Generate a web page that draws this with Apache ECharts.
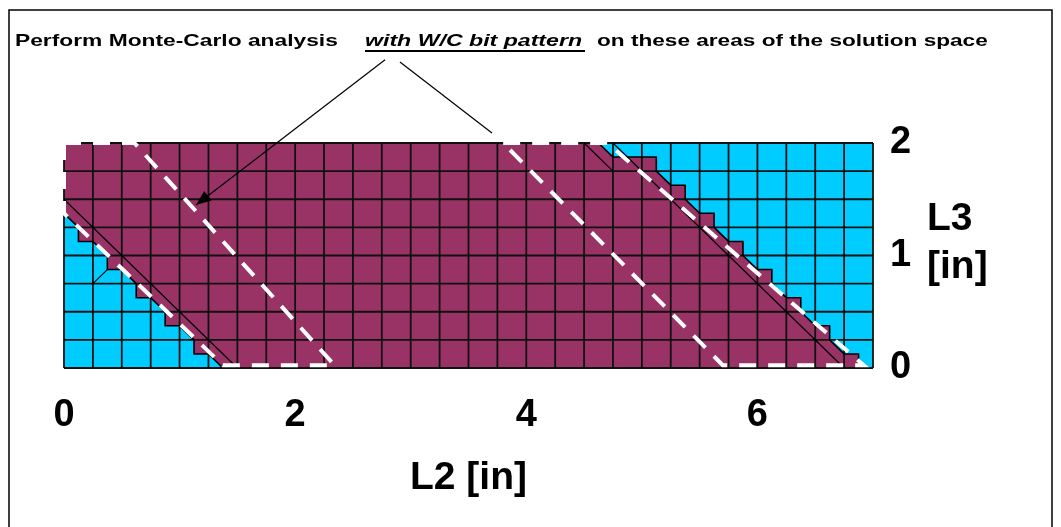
<!DOCTYPE html>
<html>
<head>
<meta charset="utf-8">
<script src="https://cdn.jsdelivr.net/npm/echarts@6/dist/echarts.min.js"></script>
<style>
  html, body { margin: 0; padding: 0; background: #ffffff; }
  #chart { width: 1061px; height: 527px; }
</style>
</head>
<body>
<div id="chart"></div>
<script>
// Axis ticks (inches)
const l2Ticks = [0, 2, 4, 6];
const l3Ticks = [0, 1, 2];

// Cell boundaries of the sampled solution space
const l2CellEdges = [0, 0.25, 0.5, 0.75, 1, 1.25, 1.5, 1.75, 2, 2.25, 2.5, 2.75, 3, 3.25, 3.5,
  3.75, 4, 4.25, 4.5, 4.75, 5, 5.25, 5.5, 5.75, 6, 6.25, 6.5, 6.75, 7];
const l3CellEdges = [0, 0.25, 0.5, 0.75, 1, 1.25, 1.5, 1.75, 2];

// Contour of the valid band (L2, L3): lower-left staircase edge
const lowerEdge = [
  [0, 1.375], [0.125, 1.25], [0.125, 1.125], [0.25, 1.125], [0.375, 1.0], [0.375, 0.875],
  [0.5, 0.875], [0.625, 0.75], [0.625, 0.625], [0.75, 0.625], [0.875, 0.5], [0.875, 0.375],
  [1.0, 0.375], [1.125, 0.25], [1.125, 0.125], [1.25, 0.125], [1.375, 0]
];
// Contour of the valid band: upper-right staircase edge
const upperEdge = [
  [4.625, 2], [4.75, 1.875], [5.125, 1.875], [5.125, 1.75], [5.25, 1.625], [5.375, 1.625],
  [5.375, 1.5], [5.5, 1.375], [5.625, 1.375], [5.625, 1.25], [5.75, 1.125], [5.875, 1.125],
  [5.875, 1.0], [6.0, 0.875], [6.125, 0.875], [6.125, 0.75], [6.25, 0.625], [6.375, 0.625],
  [6.375, 0.5], [6.5, 0.375], [6.625, 0.375], [6.625, 0.25], [6.75, 0.125], [6.875, 0.125],
  [6.875, 0]
];

// Surface mesh diagonals
const meshLines = [
  [[0, 1.5], [1.5, 0]],
  [[4.75, 2], [6.75, 0]],
  [[4.5, 2], [4.75, 1.75]],
  [[0.25, 0.75], [0.375, 0.875]]
];

// Monte-Carlo analysis areas
const mcAreaLeft = [[0, 2], [0.61, 2], [2.34, 0.025], [1.375, 0.025], [0, 1.375]];
const mcAreaRight = [[3.8, 2], [4.7, 2], [6.92, 0.025], [5.7, 0.025]];

// Callout lines from the note to the two areas
const callouts = [
  { from: [2.778, 2.74], to: [1.142, 1.449], arrow: true },
  { from: [2.907, 2.72], to: [3.703, 2.089], arrow: false }
];

const PURPLE = '#993366';
const CYAN = '#00ccff';
const FONT = '"Liberation Sans", Arial, sans-serif';

function renderScene(params, api) {
  const pt = p => api.coord(p);
  const children = [];

  children.push({
    type: 'polygon',
    shape: { points: [[0, 0], [7, 0], [7, 2], [0, 2]].map(pt) },
    style: { fill: CYAN }
  });

  const band = [[0, 2]].concat(lowerEdge, upperEdge.slice().reverse());
  children.push({
    type: 'polygon',
    shape: { points: band.map(pt) },
    style: { fill: PURPLE }
  });

  l2CellEdges.forEach(v => {
    const a = pt([v, 0]), b = pt([v, 2]);
    children.push({ type: 'line', shape: { x1: a[0], y1: a[1], x2: b[0], y2: b[1] },
      style: { stroke: '#111', lineWidth: 1.8 } });
  });
  l3CellEdges.forEach(v => {
    const a = pt([0, v]), b = pt([7, v]);
    children.push({ type: 'line', shape: { x1: a[0], y1: a[1], x2: b[0], y2: b[1] },
      style: { stroke: '#111', lineWidth: 1.8 } });
  });

  [lowerEdge, upperEdge].forEach(edge => {
    children.push({ type: 'polyline', shape: { points: edge.map(pt) },
      style: { stroke: '#000', lineWidth: 1.6, fill: null } });
  });

  meshLines.forEach(seg => {
    children.push({ type: 'polyline', shape: { points: seg.map(pt) },
      style: { stroke: '#000', lineWidth: 1.2, fill: null } });
  });

  [mcAreaLeft, mcAreaRight].forEach(area => {
    children.push({ type: 'polygon', shape: { points: area.map(pt) },
      style: { fill: null, stroke: '#ffffff', lineWidth: 4, lineDash: [17, 12] } });
  });

  callouts.forEach(c => {
    const a = pt(c.from), b = pt(c.to);
    children.push({ type: 'line', shape: { x1: a[0], y1: a[1], x2: b[0], y2: b[1] },
      style: { stroke: '#000', lineWidth: 1.2 } });
    if (c.arrow) {
      const dx = b[0] - a[0], dy = b[1] - a[1];
      const len = Math.hypot(dx, dy), ux = dx / len, uy = dy / len;
      const hl = 15, hw = 6;
      const bx = b[0] - ux * hl, by = b[1] - uy * hl;
      children.push({ type: 'polygon',
        shape: { points: [[b[0], b[1]], [bx - uy * hw, by + ux * hw], [bx + uy * hw, by - ux * hw]] },
        style: { fill: '#000' } });
    }
  });

  return { type: 'group', children };
}

const chart = echarts.init(document.getElementById('chart'), null, { renderer: 'canvas' });

const titleStyle = { fontFamily: FONT, fontSize: 17, fontWeight: 'bold', fill: '#000', verticalAlign: 'top' };

chart.setOption({
  animation: false,
  backgroundColor: '#ffffff',
  grid: { left: 64, top: 143, width: 809, height: 225 },
  xAxis: {
    type: 'value', min: 0, max: 7, interval: 2,
    axisLine: { show: false }, axisTick: { show: false }, splitLine: { show: false },
    axisLabel: {
      showMaxLabel: false, margin: 29, color: '#000', fontFamily: FONT,
      fontSize: 38, fontWeight: 'bold',
      formatter: v => (l2Ticks.indexOf(v) >= 0 ? String(v) : '')
    },
    name: 'L2 [in]', nameLocation: 'middle', nameGap: 91,
    nameTextStyle: { color: '#000', fontFamily: FONT, fontSize: 39, fontWeight: 'bold' }
  },
  yAxis: {
    type: 'value', position: 'right', min: 0, max: 2, interval: 1,
    axisLine: { show: false }, axisTick: { show: false }, splitLine: { show: false },
    axisLabel: {
      margin: 17, color: '#000', fontFamily: FONT, fontSize: 38, fontWeight: 'bold',
      formatter: v => (l3Ticks.indexOf(v) >= 0 ? String(v) : '')
    }
  },
  graphic: [
    { type: 'rect', shape: { x: 9, y: 10, width: 1043, height: 540 },
      style: { fill: null, stroke: '#000', lineWidth: 1.5 }, silent: true },
    { type: 'text', x: 15, y: 33, scaleX: 1.34,
      style: Object.assign({ text: 'Perform Monte-Carlo analysis' }, titleStyle) },
    { type: 'text', x: 365, y: 33, scaleX: 1.36,
      style: Object.assign({ text: 'with W/C bit pattern', fontStyle: 'italic' }, titleStyle) },
    { type: 'line', shape: { x1: 365, y1: 51, x2: 585, y2: 51 }, style: { stroke: '#000', lineWidth: 2 } },
    { type: 'text', x: 597, y: 33, scaleX: 1.33,
      style: Object.assign({ text: 'on these areas of the solution space' }, titleStyle) },
    { type: 'text', x: 927, y: 243,
      style: { text: 'L3\n[in]', fontFamily: FONT, fontSize: 39, fontWeight: 'bold', fill: '#000',
        lineHeight: 48, verticalAlign: 'middle', align: 'left' } }
  ],
  series: [{
    type: 'custom',
    coordinateSystem: 'cartesian2d',
    clip: false,
    silent: true,
    renderItem: renderScene,
    data: [[0, 0]]
  }]
});
</script>
</body>
</html>
